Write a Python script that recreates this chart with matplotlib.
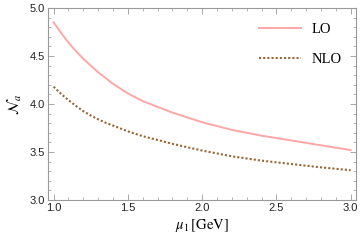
import numpy as np
import matplotlib
matplotlib.use("Agg")
import matplotlib.pyplot as plt
from matplotlib.ticker import MultipleLocator

# values
mu = [1.0, 1.05, 1.1, 1.15, 1.2, 1.25, 1.3, 1.35, 1.4, 1.45, 1.5,
      1.6, 1.7, 1.8, 1.9, 2.0, 2.2, 2.4, 2.6, 2.8, 3.0]
lo = [4.85, 4.74, 4.64, 4.55, 4.47, 4.40, 4.33, 4.27, 4.21, 4.16, 4.11,
      4.03, 3.97, 3.91, 3.86, 3.81, 3.73, 3.67, 3.62, 3.57, 3.52]
nlo = [4.18, 4.105, 4.04, 3.98, 3.925, 3.88, 3.84, 3.805, 3.775, 3.745, 3.715,
       3.665, 3.625, 3.585, 3.55, 3.515, 3.455, 3.41, 3.375, 3.34, 3.31]

plt.rcParams['mathtext.fontset'] = 'stix'

fig = plt.figure(figsize=(3.61, 2.47), dpi=100)
ax = fig.add_axes([48/361, 47/247, 308/361, 192/247])

ax.plot(mu, lo, color='#ffa6a6', lw=1.4, label='LO')
ax.plot(mu, nlo, color='#996633', lw=1.5, ls=(0, (1, 1)), label='NLO')

ax.set_xlim(0.962, 3.036)
ax.set_ylim(3.0, 5.0)
ax.xaxis.set_major_locator(MultipleLocator(0.5))
ax.xaxis.set_minor_locator(MultipleLocator(0.1))
ax.yaxis.set_major_locator(MultipleLocator(0.5))
ax.yaxis.set_minor_locator(MultipleLocator(0.1))
ax.tick_params(which='both', direction='in', top=True, right=True,
               color='#999999', labelsize=8, labelcolor='#222222', pad=2)
ax.tick_params(which='major', length=4, width=0.6)
ax.tick_params(which='minor', length=2, width=0.5)
for lab in ax.get_xticklabels() + ax.get_yticklabels():
    lab.set_family('Liberation Sans')
for s in ax.spines.values():
    s.set_color('#999999')
    s.set_linewidth(0.8)

ax.set_xlabel(r'$\mu_1\,[\mathrm{GeV}]$', fontsize=10.5, labelpad=3)
ax.set_ylabel(r'$\mathcal{N}_a$', fontsize=10.5, labelpad=4)

leg = ax.legend(loc='upper right', frameon=False,
                handlelength=2.9, handletextpad=0.7, labelspacing=1.15,
                borderaxespad=0.6,
                prop={'family': 'Liberation Serif', 'size': 10.5})

fig.savefig('out.png', dpi=100)
